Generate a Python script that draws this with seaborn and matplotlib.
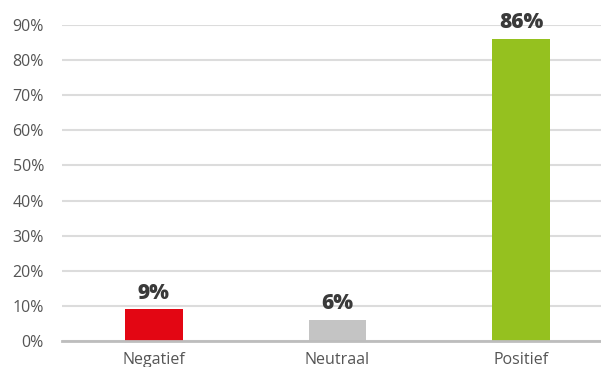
import matplotlib
matplotlib.use("Agg")
import matplotlib.pyplot as plt
import seaborn as sns
import pandas as pd

categories = ["Negatief", "Neutraal", "Positief"]
values = [9, 6, 86]
colors = ["#e30613", "#c4c4c4", "#95c11f"]
yticks = [0, 10, 20, 30, 40, 50, 60, 70, 80, 90]

sns.set_theme(style="white")
plt.rcParams["font.family"] = ["Open Sans", "DejaVu Sans"]

df = pd.DataFrame({"cat": categories, "val": values})

fig = plt.figure(figsize=(6.01, 3.67), dpi=100)
ax = fig.add_axes([62 / 601, 26 / 367, 551 / 601, 316 / 367])

sns.barplot(data=df, x="cat", y="val", hue="cat", palette=colors,
            width=0.315, legend=False, ax=ax, saturation=1, linewidth=0)

ax.set_ylim(0, 90)
ax.set_xlim(-0.5, 2.5)
ax.set_yticks(yticks)
ax.set_yticklabels([f"{t}%" for t in yticks])
ax.yaxis.grid(True, color="#dcdcdc", linewidth=1.5)
ax.set_axisbelow(True)
for s in ["top", "right", "left"]:
    ax.spines[s].set_visible(False)
ax.spines["bottom"].set_color("#bdbdbd")
ax.spines["bottom"].set_linewidth(2)
ax.tick_params(axis="y", length=0, pad=13, labelsize=11.5, labelcolor="#555555")
ax.tick_params(axis="x", length=0, pad=8, labelsize=11.5, labelcolor="#555555")
ax.set_xlabel("")
ax.set_ylabel("")

for i, v in enumerate(values):
    ax.annotate(f"{v}%", (i, v), xytext=(0, 4), textcoords="offset points",
                ha="center", va="bottom", fontsize=15, fontweight="heavy",
                color="#3a3a3a", annotation_clip=False)

fig.savefig("out.png", dpi=100)
